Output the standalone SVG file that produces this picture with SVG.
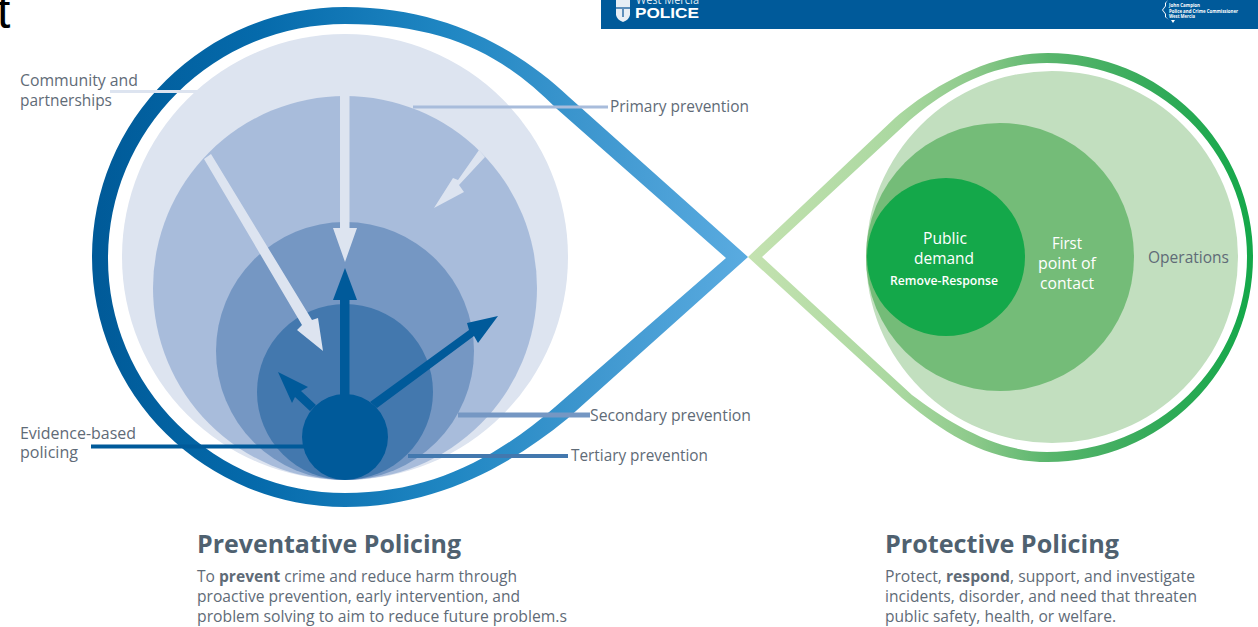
<svg xmlns="http://www.w3.org/2000/svg" width="1258" height="627" viewBox="0 0 1258 627">
<style>
text{font-family:"Open Sans","Noto Sans","Liberation Sans",sans-serif;fill:#5f6b77;font-size:15.5px}
.h{font-size:25px;font-weight:700;fill:#4f6170}
.w{fill:#fff}
.m{font-size:5px;font-weight:700;fill:#fff}
.l{fill:none}
</style>
<defs>
<linearGradient id="bg" gradientUnits="userSpaceOnUse" x1="92" y1="0" x2="748" y2="0"><stop offset="0" stop-color="#005a98"/><stop offset=".25" stop-color="#056aab"/><stop offset=".55" stop-color="#2087c3"/><stop offset=".75" stop-color="#3d96ce"/><stop offset="1" stop-color="#5aabe0"/></linearGradient>
<linearGradient id="gg" gradientUnits="userSpaceOnUse" x1="748" y1="0" x2="1252" y2="0"><stop offset="0" stop-color="#c4e2b0"/><stop offset=".3" stop-color="#aad8a0"/><stop offset=".45" stop-color="#8cc98a"/><stop offset=".6" stop-color="#58b56c"/><stop offset=".8" stop-color="#35ab5a"/><stop offset="1" stop-color="#14a84a"/></linearGradient>
</defs>
<g id="header">
<rect x="601" y="0" width="657" height="29" fill="#005a9a"/>
<text x="636" y="4" textLength="63" lengthAdjust="spacingAndGlyphs" style="font-size:13px;fill:#dfe8f2">West Mercia</text>
<text x="635" y="18" textLength="64" lengthAdjust="spacingAndGlyphs" style="font-size:15.5px;font-weight:700;fill:#fff;font-family:'Liberation Sans',sans-serif">POLICE</text>
<path d="M616 0h14v15q-1 5-7 7q-6-2-7-7z" fill="#e8eef5"/>
<path d="M616 7h14v2h-14zM622 9h2v8h-2z" fill="#5f8fbb"/>
<path d="M1168 0l-3 3v3l-3 4l3 4v3l4 3h2l2 3l2-3h-6l-3-3v-3l-3-4l3-4v-3z" fill="#fff"/>
<text class="m" x="1169" y="7" textLength="31" lengthAdjust="spacingAndGlyphs">John Campion</text>
<text class="m" x="1169" y="12.5" textLength="69" lengthAdjust="spacingAndGlyphs">Police and Crime Commissioner</text>
<text class="m" x="1169" y="18" textLength="26" lengthAdjust="spacingAndGlyphs">West Mercia</text>
</g>
<text id="clipped-letter" x="-3" y="28" style="font-size:48px;fill:#000;font-family:'Liberation Sans',sans-serif">t</text>
<g id="preventative-teardrop">
<path fill="url(#bg)" fill-rule="evenodd" d="M748 257L569 97C522 53 450 7 345 7A253 250 0 0 0 345 507C430 507 505 470 567 419ZM726 258L555 407C495 459 430 493 345 493A237 234.500 0 0 1 345 24C450 24 506 58 557 109Z"/>
</g>
<g id="community"><circle cx="345" cy="257" r="223" fill="#dde4f0"/></g>
<g id="primary"><circle cx="345" cy="288" r="192" fill="#a8bcdb"/></g>
<g id="secondary"><circle cx="345" cy="351" r="129" fill="#7597c3"/></g>
<g id="tertiary"><circle cx="345" cy="392" r="88" fill="#4378ae"/></g>
<g id="evidence"><circle cx="345" cy="437" r="43" fill="#005a9a"/></g>
<g id="protective-teardrop">
<path fill="url(#gg)" fill-rule="evenodd" d="M748 257L895 118C925 92 985 53 1048 53A205 204 0 0 1 1253 257A205 205 0 0 1 1048 462C985 462 940 430 902 398ZM762 257L912 395C945 420 995 452 1047 452A200 195 0 0 0 1247 257A200 194 0 0 0 1047 63C990 63 945 90 910 120Z"/>
</g>
<g id="operations"><circle cx="1052" cy="257" r="186" fill="#c2dfbf"/><text x="1148" y="263" textLength="81" lengthAdjust="spacingAndGlyphs">Operations</text></g>
<g id="first-contact"><circle cx="1000" cy="257" r="134" fill="#74bc78"/>
<text class="w" x="1052" y="249" textLength="30" lengthAdjust="spacingAndGlyphs">First</text><text class="w" x="1038" y="269" textLength="58" lengthAdjust="spacingAndGlyphs">point of</text><text class="w" x="1040" y="289" textLength="54" lengthAdjust="spacingAndGlyphs">contact</text></g>
<g id="public-demand"><circle cx="946" cy="257" r="79" fill="#14a84a"/>
<text class="w" x="923" y="244" textLength="44" lengthAdjust="spacingAndGlyphs">Public</text><text class="w" x="914" y="264" textLength="60" lengthAdjust="spacingAndGlyphs">demand</text><text class="w" x="890" y="285" textLength="108" lengthAdjust="spacingAndGlyphs" style="font-size:12px;font-weight:600">Remove-Response</text></g>
<g id="connectors">
<g fill="#dde4f0">
<path d="M340 96h9.500v132h7.500l-12 34l-12-34h7z"/>
<path d="M204 159l7-5l101 166l6-2l5 33l-26-21l5-5z"/>
<path d="M479 150l6 7l-26 28l5 7l-30 16l19-30l5 2z"/>
</g>
<g fill="#005a9a">
<path d="M340 395V300h-7l12-32l12 32h-7.500v95z"/>
<path d="M370 402l99-72l-2-7l31-7l-20 27l-4-7l-97 72z"/>
<path d="M278 372l30 15l-7 4l15 14l-6 6l-15-14l-3 6z"/>
</g>
<path class="l" stroke-width="3" d="M110 91.500H197" stroke="#dde4f0"/>
<path class="l" stroke-width="3" d="M413 107H608" stroke="#a8bcdb"/>
<path class="l" stroke-width="5" d="M458 415H590" stroke="#7597c3"/>
<path class="l" stroke-width="4" d="M408 456H568" stroke="#4378ae"/>
<path class="l" stroke-width="4" d="M91 446.500H304" stroke="#005a9a"/>
</g>
<g id="labels">
<text x="20" y="86" textLength="118" lengthAdjust="spacingAndGlyphs">Community and</text><text x="20" y="106" textLength="92" lengthAdjust="spacingAndGlyphs">partnerships</text>
<text x="610" y="112" textLength="139" lengthAdjust="spacingAndGlyphs">Primary prevention</text>
<text x="590" y="421" textLength="161" lengthAdjust="spacingAndGlyphs">Secondary prevention</text>
<text x="571" y="461" textLength="137" lengthAdjust="spacingAndGlyphs">Tertiary prevention</text>
<text x="20" y="439" textLength="116" lengthAdjust="spacingAndGlyphs">Evidence-based</text><text x="20" y="458" textLength="58" lengthAdjust="spacingAndGlyphs">policing</text>
</g>
<g id="caption-preventative">
<text class="h" x="197" y="553" textLength="264" lengthAdjust="spacingAndGlyphs">Preventative Policing</text>
<text x="197" y="582" textLength="320" lengthAdjust="spacingAndGlyphs">To <tspan font-weight="700">prevent</tspan> crime and reduce harm through</text>
<text x="197" y="602" textLength="323" lengthAdjust="spacingAndGlyphs">proactive prevention, early intervention, and</text>
<text x="197" y="622" textLength="370" lengthAdjust="spacingAndGlyphs">problem solving to aim to reduce future problem.s</text>
</g>
<g id="caption-protective">
<text class="h" x="885" y="553" textLength="234" lengthAdjust="spacingAndGlyphs">Protective Policing</text>
<text x="885" y="582" textLength="310" lengthAdjust="spacingAndGlyphs">Protect, <tspan font-weight="700">respond</tspan>, support, and investigate</text>
<text x="885" y="602" textLength="312" lengthAdjust="spacingAndGlyphs">incidents, disorder, and need that threaten</text>
<text x="885" y="622" textLength="231" lengthAdjust="spacingAndGlyphs">public safety, health, or welfare.</text>
</g>
</svg>
